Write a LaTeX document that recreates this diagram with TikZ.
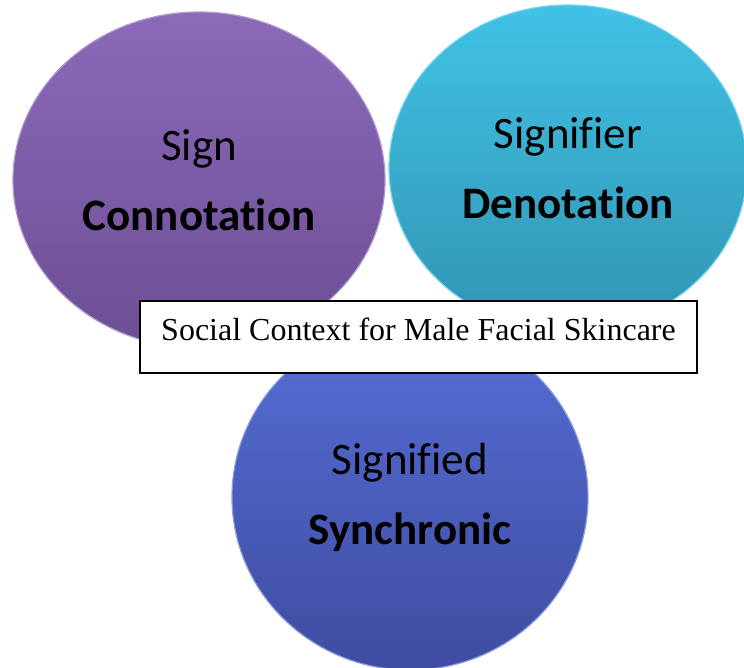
\documentclass[tikz,border=0pt]{standalone}
\usepackage{fontspec}
\setmainfont{Liberation Serif}
\newfontfamily\bubblefont[Ligatures=NoCommon]{Carlito}
\usetikzlibrary{shapes.geometric,positioning}
\usepackage{xcolor}
\definecolor{signtop}{HTML}{8B6AB9}
\definecolor{signbottom}{HTML}{6C4E94}
\definecolor{signifiertop}{HTML}{40C2E6}
\definecolor{signifierbottom}{HTML}{3294B2}
\definecolor{signifiedtop}{HTML}{566ED6}
\definecolor{signifiedbottom}{HTML}{3F4CA0}

\begin{document}
\begin{tikzpicture}[
                    x=1pt, y=-1pt,
                    bubble/.style 2 args={ellipse, draw=#1!70!white, line width=1.2pt, top color=#1, bottom color=#2, text=black, align=center, inner sep=0pt, font=\bubblefont\fontsize{45}{70}\selectfont},
                    caption/.style={rectangle, draw, fill=white, line width=1.2pt, minimum width=557, text height=36pt, text depth=30pt, inner ysep=3pt, font=\fontsize{32}{38}\selectfont}
                ]
                    \useasboundingbox (0,0) rectangle (744,667);
                    \node[bubble={signtop}{signbottom}, minimum width=372, minimum height=336] (sign) at (199,180) {Sign\\\textbf{Connotation}};
                    \node[bubble={signifiertop}{signifierbottom}, minimum width=358, minimum height=326] (signifier) at (568,168) {Signifier\\\textbf{Denotation}};
                    \node[bubble={signifiedtop}{signifiedbottom}, minimum width=356, minimum height=346] (signified) at (410,497) {Signified\\\textbf{Synchronic}};
                    \node[caption] (context) at (418.5,337) {Social Context for Male Facial Skincare};
                \end{tikzpicture}
\end{document}
